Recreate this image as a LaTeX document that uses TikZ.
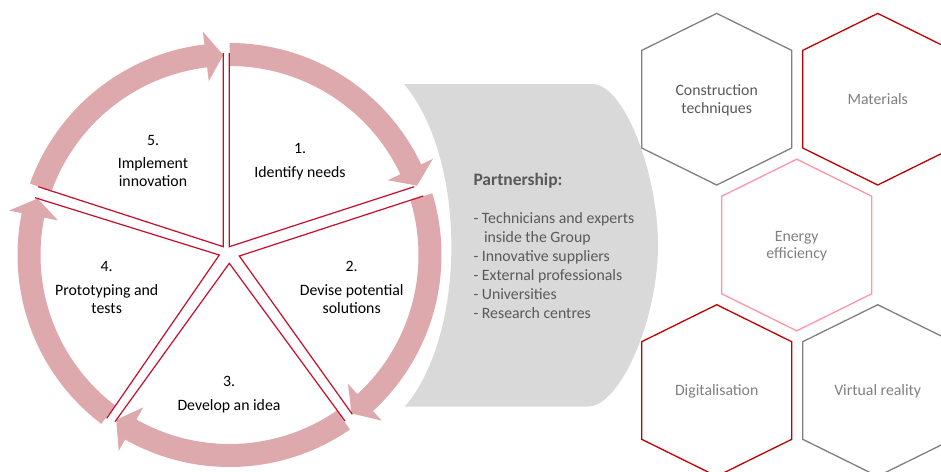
\documentclass[tikz,border=0pt]{standalone}
\usepackage{fontspec}
\setmainfont{Carlito}
\usetikzlibrary{calc}
\definecolor{ringpink}{RGB}{222,169,173}
\definecolor{wheelred}{RGB}{198,14,44}
\definecolor{hexred}{RGB}{192,0,0}
\definecolor{hexgray}{RGB}{128,128,128}
\definecolor{hexpink}{RGB}{255,150,165}
\definecolor{panelgray}{RGB}{217,217,217}
\definecolor{txtdark}{RGB}{89,89,89}
\definecolor{txtgray}{RGB}{128,128,128}
\tikzset{
  lbl/.style={anchor=base, inner sep=0pt, font=\fontsize{15.8}{19}\selectfont},
  plbl/.style={anchor=base west, inner sep=0pt, text=txtdark, font=\fontsize{15.8}{19}\selectfont},
  wedge/.style={draw=wheelred, line width=1.2pt, line join=miter},
  hexa/.pic={\path[pic actions] (0,85.8)--(75,48.8)--(75,-48.8)--(0,-85.8)--(-75,-48.8)--(-75,48.8)--cycle;},
  hexline/.style={line width=1.3pt}
}
\begin{document}
\begin{tikzpicture}[x=1pt,y=1pt]
\clip (0,0) rectangle (941,-471);
\fill[white] (0,0) rectangle (941,-471);

% ring arrows
\begin{scope}[shift={(229.5,-255)}]
\foreach \ta/\tb in {90/20.3, 16.9/-52.4, -55.4/-124.5, -127.2/-196.4, 160.3/91.8}{
  \pgfmathsetmacro{\hb}{\tb+5}
  \fill[ringpink] (\ta:212) arc[start angle=\ta, end angle=\hb, radius=212]
     -- (\hb:225) -- (\tb:200) -- (\hb:175) -- (\hb:189)
     arc[start angle=\hb, end angle=\ta, radius=189] -- cycle;
}
\end{scope}

% wedge outlines
\draw[wedge] (229.3,-53) -- (229.3,-246.7) -- (414.3,-186.7);
\draw[wedge] (423.3,-196) -- (239.3,-256) -- (352.3,-414.3);
\draw[wedge] (345,-421) -- (229.3,-263.3) -- (115,-421.7);
\draw[wedge] (106.7,-418.3) -- (219.3,-255) -- (35,-197.7);
\draw[wedge] (38.3,-186.7) -- (223.3,-246.7) -- (223.3,-53);

% wheel labels
\node[lbl] (n5) at (153,-145) {5.};
\node[lbl] (t5a) at (153,-168) {Implement};
\node[lbl] (t5b) at (153,-186) {innovation};
\node[lbl] (n1) at (300,-153) {1.};
\node[lbl] (t1) at (300,-177) {Identify needs};
\node[lbl] (n4) at (106.7,-271.7) {4.};
\node[lbl] (t4a) at (106.7,-295) {Prototyping and};
\node[lbl] (t4b) at (106.7,-313) {tests};
\node[lbl] (n2) at (351.7,-271.7) {2.};
\node[lbl] (t2a) at (351.7,-295) {Devise potential};
\node[lbl] (t2b) at (351.7,-313) {solutions};
\node[lbl] (n3) at (229,-386.7) {3.};
\node[lbl] (t3) at (229,-410) {Develop an idea};

% partnership panel
\fill[panelgray] (404,-84) -- (592,-84)
  .. controls (625,-84) and (658,-175) .. (658,-245)
  .. controls (658,-320) and (620,-406.5) .. (588,-406.5)
  -- (405,-406.5)
  .. controls (467,-333) and (467,-159) .. cycle;
\node[plbl, font=\fontsize{17.5}{21}\selectfont\bfseries] (ptitle) at (473.3,-185.5) {Partnership:};
\node[plbl] (p1) at (473.3,-223.3) {- Technicians and experts};
\node[plbl] (p1b) at (473.3,-242.3) {\hspace*{10.5pt}inside the Group};
\node[plbl] (p2) at (473.3,-261.3) {- Innovative suppliers};
\node[plbl] (p3) at (473.3,-280.3) {- External professionals};
\node[plbl] (p4) at (473.3,-299.3) {- Universities};
\node[plbl] (p5) at (473.3,-318.3) {- Research centres};

% hexagons
\pic[draw=hexgray, hexline] at (716.7,-99.2) {hexa};
\pic[draw=hexred, hexline] at (877.7,-99.2) {hexa};
\pic[draw=hexpink, hexline] at (796.7,-245) {hexa};
\pic[draw=hexred, hexline] at (716.7,-390.5) {hexa};
\pic[draw=hexgray, hexline] at (877.7,-390.5) {hexa};

\node[lbl, text=txtdark] (h1a) at (716.7,-95) {Construction};
\node[lbl, text=txtdark] (h1b) at (716.7,-113.3) {techniques};
\node[lbl, text=txtgray] (h2) at (877.7,-104) {Materials};
\node[lbl, text=txtgray] (h3a) at (796.7,-241.7) {Energy};
\node[lbl, text=txtgray] (h3b) at (796.7,-258.3) {efficiency};
\node[lbl, text=txtgray] (h4) at (716.7,-395) {Digitalisation};
\node[lbl, text=txtgray] (h5) at (877.7,-395) {Virtual reality};
\end{tikzpicture}
\end{document}
